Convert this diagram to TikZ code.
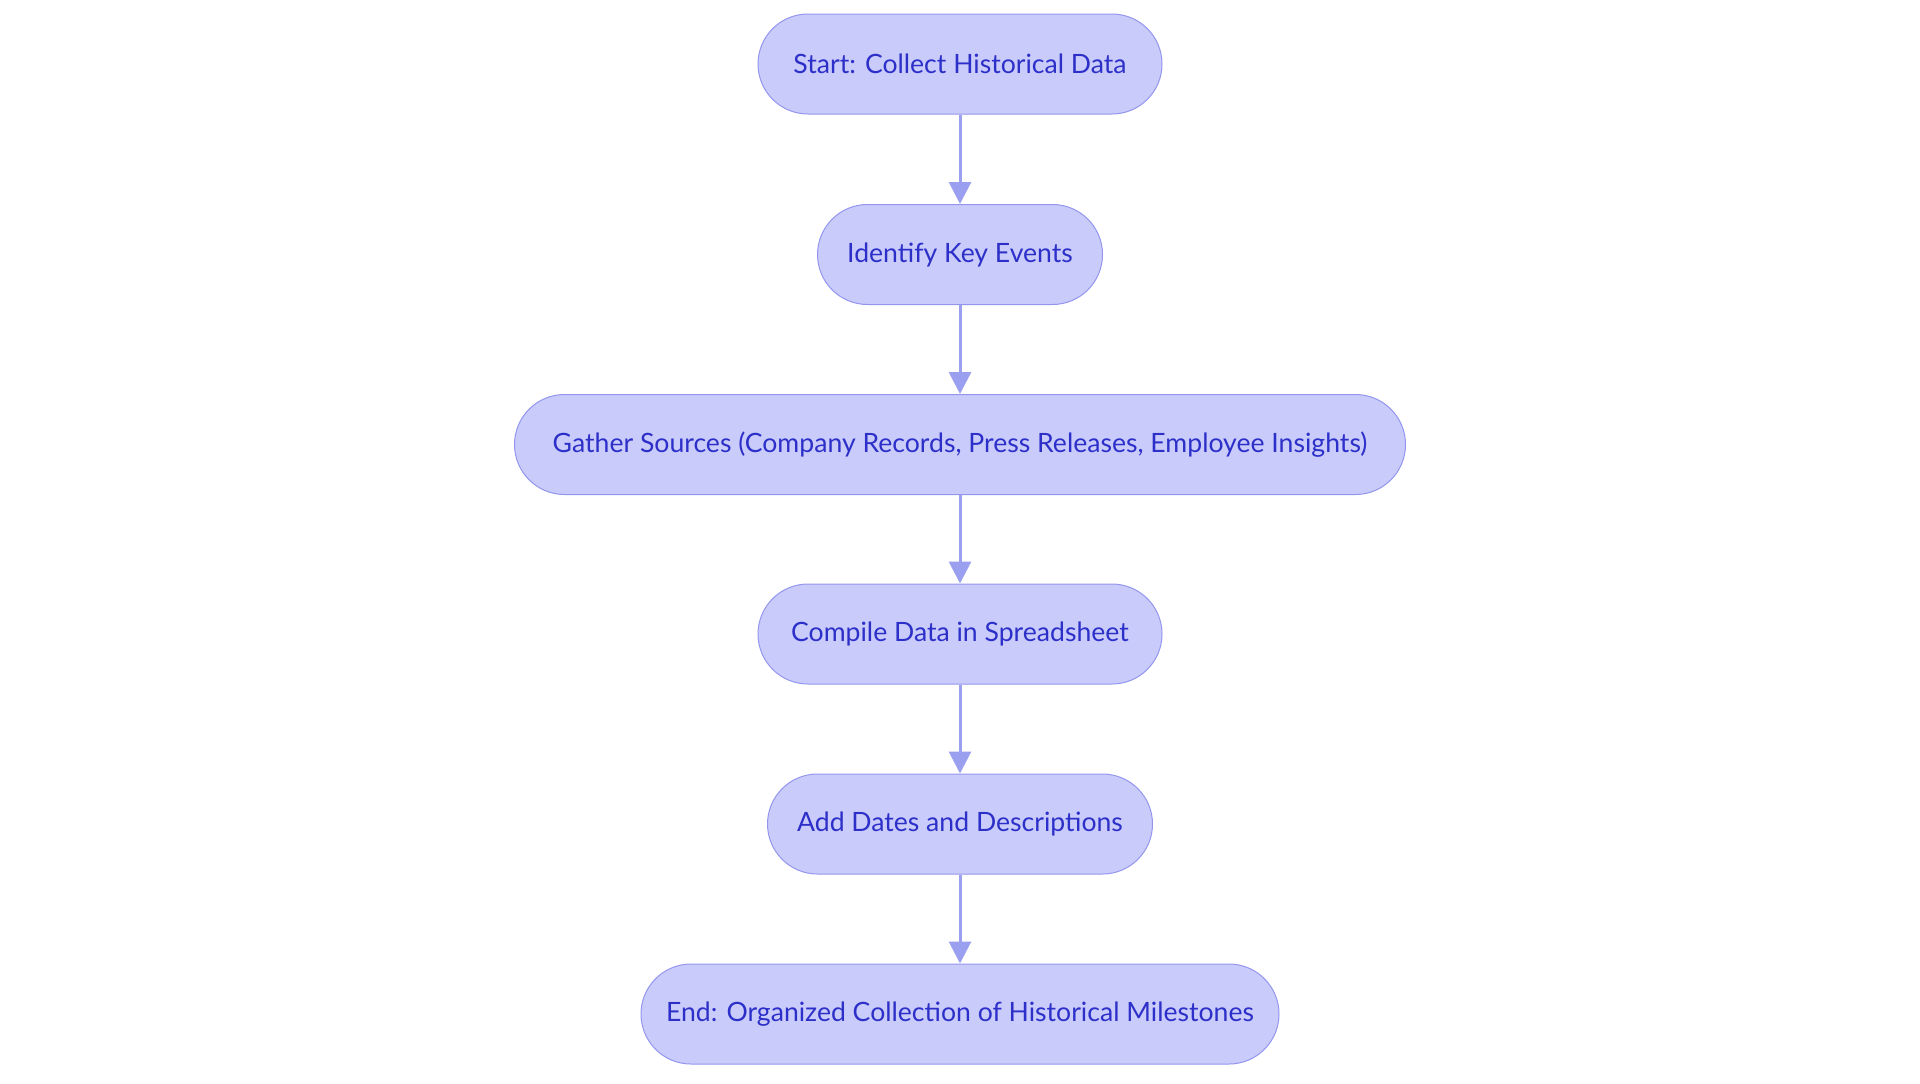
\documentclass[tikz,border=0pt]{standalone}
\usepackage{fontspec}
\setmainfont{Lato}
\usetikzlibrary{arrows.meta}
\definecolor{boxfill}{HTML}{C9CBFB}
\definecolor{boxdraw}{HTML}{9496EE}
\definecolor{txt}{HTML}{2D30C8}
\definecolor{arr}{HTML}{9B9FF0}
\tikzset{
  flowbox/.style={draw=boxdraw, fill=boxfill, line width=0.5pt, rounded corners=25pt,
    minimum height=50pt, inner sep=0pt, text=txt, font=\fontsize{13.3}{15}\selectfont},
  flowarrow/.style={draw=arr, line width=1.5pt, -{Triangle[length=11pt,width=11pt]}}
}
\begin{document}
\begin{tikzpicture}[x=0.5pt,y=-0.5pt]
\useasboundingbox (0,0) rectangle (1920,1083);
\node[flowbox, minimum width=202pt] (n1) at (960,64) {Start: Collect Historical Data};
\node[flowbox, minimum width=142.5pt] (n2) at (960,254.5) {Identify Key Events};
\node[flowbox, minimum width=445.5pt] (n3) at (960,444.5) {Gather Sources (Company Records, Press Releases, Employee Insights)};
\node[flowbox, minimum width=202pt] (n4) at (960,634) {Compile Data in Spreadsheet};
\node[flowbox, minimum width=192.5pt] (n5) at (960,824) {Add Dates and Descriptions};
\node[flowbox, minimum width=319pt] (n6) at (960,1014) {End: Organized Collection of Historical Milestones};
\draw[flowarrow] (n1) -- (n2);
\draw[flowarrow] (n2) -- (n3);
\draw[flowarrow] (n3) -- (n4);
\draw[flowarrow] (n4) -- (n5);
\draw[flowarrow] (n5) -- (n6);
\end{tikzpicture}
\end{document}
